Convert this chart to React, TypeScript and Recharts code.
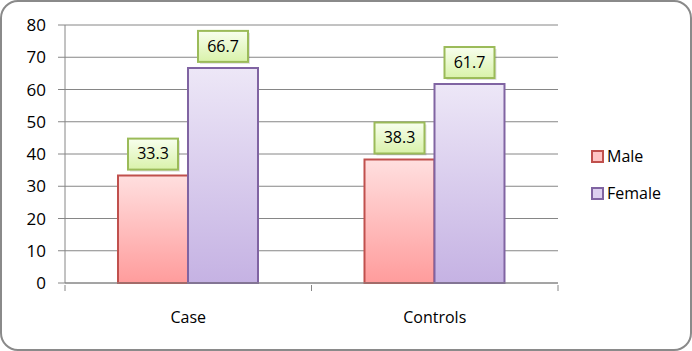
import React from "react"
import {
  BarChart,
  Bar,
  XAxis,
  YAxis,
  CartesianGrid,
  LabelList,
} from "recharts"

const groups = ["Case", "Controls"]
const male = [33.3, 38.3]
const female = [66.7, 61.7]
const yTicks = [0, 10, 20, 30, 40, 50, 60, 70, 80]

const seriesInfo = [
  { key: "Male", fill: "url(#maleGrad)", stroke: "#c0504d", swatch: "#ffc4c4" },
  { key: "Female", fill: "url(#femaleGrad)", stroke: "#8064a2", swatch: "#ddd0f0" },
]

const data = groups.map((g, i) => ({ name: g, Male: male[i], Female: female[i] }))

const W = 692
const H = 351
const FONT = "'Open Sans', 'Liberation Sans', sans-serif"
const plotLeft = 65
const plotRight = 558
const band = (plotRight - plotLeft) / groups.length

const ValueBox = (props: any) => {
  const { x, y, width, value } = props
  const bw = 50
  const bh = 31
  const cx = x + width / 2
  const top = y - 6 - bh
  return (
    <g>
      <rect x={cx - bw / 2 + 2} y={top + 2} width={bw} height={bh} fill="rgba(0,0,0,0.12)" />
      <rect
        x={cx - bw / 2}
        y={top}
        width={bw}
        height={bh}
        fill="url(#labelGrad)"
        stroke="#9bbb59"
        strokeWidth={2}
      />
      <text
        x={cx}
        y={top + bh / 2 + 1}
        textAnchor="middle"
        dominantBaseline="middle"
        fontSize={16}
        fontFamily={FONT}
        fill="#000"
      >
        {value}
      </text>
    </g>
  )
}

const CatTick = (props: any) => {
  const { x, y, payload, index } = props
  const half = band / 2
  return (
    <g>
      <line x1={x - half} y1={y} x2={x - half} y2={y + 6} stroke="#868686" />
      {index === groups.length - 1 && (
        <line x1={x + half} y1={y} x2={x + half} y2={y + 6} stroke="#868686" />
      )}
      <text
        x={x}
        y={y + 38}
        textAnchor="middle"
        fontSize={16}
        fontFamily={FONT}
        fill="#000"
      >
        {payload.value}
      </text>
    </g>
  )
}

const LegendBox = () => (
  <div
    style={{
      position: "absolute",
      left: 591,
      top: 146,
      fontFamily: FONT,
      fontSize: 16,
      color: "#000",
    }}
  >
    {seriesInfo.map((s, i) => (
      <div
        key={s.key}
        style={{ display: "flex", alignItems: "center", height: 20, marginBottom: i === 0 ? 17 : 0 }}
      >
        <span
          style={{
            display: "inline-block",
            width: 9,
            height: 9,
            background: s.swatch,
            border: `2px solid ${s.stroke}`,
            marginRight: 3,
          }}
        />
        <span>{s.key}</span>
      </div>
    ))}
  </div>
)

const App: React.FC = () => {
  return (
    <div style={{ position: "absolute", left: 0, top: 0, width: W, height: H, background: "#fff" }}>
      <BarChart
        width={W}
        height={H}
        data={data}
        margin={{ top: 25, right: W - plotRight, bottom: 0, left: 0 }}
        barCategoryGap="21.5%"
        barGap={0}
      >
        <defs>
          <linearGradient id="maleGrad" x1="0" y1="0" x2="0" y2="1">
            <stop offset="0%" stopColor="#ffdfdf" />
            <stop offset="100%" stopColor="#ff9c9c" />
          </linearGradient>
          <linearGradient id="femaleGrad" x1="0" y1="0" x2="0" y2="1">
            <stop offset="0%" stopColor="#ede7f7" />
            <stop offset="100%" stopColor="#c5b2e3" />
          </linearGradient>
          <linearGradient id="labelGrad" x1="0" y1="0" x2="0" y2="1">
            <stop offset="0%" stopColor="#f8ffee" />
            <stop offset="100%" stopColor="#d9f2aa" />
          </linearGradient>
        </defs>
        <CartesianGrid vertical={false} stroke="#868686" />
        <XAxis
          dataKey="name"
          height={H - 283}
          stroke="#868686"
          tickLine={false}
          tick={<CatTick />}
          tickSize={0}
          interval={0}
        />
        <YAxis
          width={plotLeft}
          domain={[0, 80]}
          ticks={yTicks}
          interval={0}
          stroke="#868686"
          tickSize={7}
          tickMargin={12}
          tick={{ fill: "#000", fontSize: 17, fontFamily: FONT }}
        />
        {seriesInfo.map((s) => (
          <Bar
            key={s.key}
            dataKey={s.key}
            fill={s.fill}
            stroke={s.stroke}
            strokeWidth={2}
            isAnimationActive={false}
          >
            <LabelList dataKey={s.key} content={<ValueBox />} />
          </Bar>
        ))}
      </BarChart>
      <LegendBox />
      <div
        style={{
          position: "absolute",
          left: 0,
          top: 0,
          width: W,
          height: H,
          boxSizing: "border-box",
          border: "2px solid #8a8a8a",
          borderRadius: 18,
          pointerEvents: "none",
        }}
      />
    </div>
  )
}

export default App
